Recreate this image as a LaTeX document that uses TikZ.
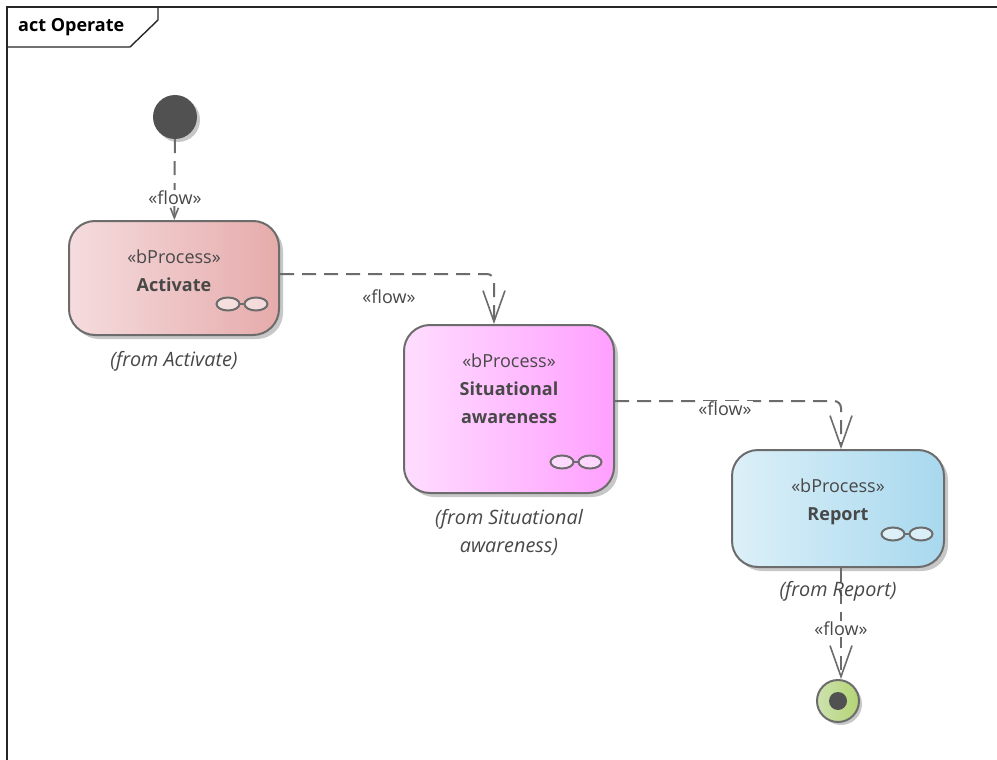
\documentclass[tikz,border=0pt]{standalone}
\usepackage{fontspec}
\setmainfont{Open Sans}
\usepackage{xcolor}
\usetikzlibrary{arrows.meta, positioning, shadows}
\definecolor{linegrey}{HTML}{6C6C6C}
\definecolor{textgrey}{HTML}{484848}
\definecolor{activateleft}{HTML}{F5DCDE}
\definecolor{activateright}{HTML}{E6ABAB}
\definecolor{situationalleft}{HTML}{FFDDFF}
\definecolor{situationalright}{HTML}{FFA0FF}
\definecolor{reportleft}{HTML}{DCF0F8}
\definecolor{reportright}{HTML}{A8D8EE}
\definecolor{finalleft}{HTML}{CDE2AF}
\definecolor{finalright}{HTML}{B4D473}
\tikzstyle{process} = [rectangle, rounded corners=26pt, minimum width=210pt, draw=linegrey, line width=2pt, drop shadow={shadow xshift=4pt, shadow yshift=-4pt, fill=black, opacity=0.22}]
\tikzstyle{proctext} = [align=center, text=textgrey, font=\fontsize{18}{28}\selectfont, inner sep=0pt]
\tikzstyle{fromtext} = [align=center, text=textgrey, font=\fontsize{19.8}{28}\selectfont\itshape, inner sep=0pt]
\tikzstyle{flowlabel} = [fill=white, text=textgrey, font=\fontsize{18}{20}\selectfont, inner sep=1pt]
\tikzstyle{flow} = [draw=linegrey, line width=2pt, dash pattern=on 14pt off 8pt, rounded corners=7pt, -{Straight Barb[length=31pt, width=22pt, line width=1.6pt]}]
\tikzstyle{flowsmall} = [draw=linegrey, line width=2pt, dash pattern=on 14pt off 8pt, -{Straight Barb[length=10pt, width=8pt, line width=1.6pt]}]
\tikzset{glasses/.pic={
  \draw [linegrey, line width=2pt] (-3,0) -- (3,0);
  \draw [linegrey, line width=2pt, fill=white, fill opacity=0.55] (-14,0) ellipse (11.5 and 6.5);
  \draw [linegrey, line width=2pt, fill=white, fill opacity=0.55] (14,0) ellipse (11.5 and 6.5);
}}

\begin{document}
\begin{tikzpicture}[x=1pt, y=-1pt]
\useasboundingbox (0,0) rectangle (997,760);
\fill [white] (0,0) rectangle (997,760);

% Frame
\draw [black!85, line width=1.4pt] (7,760) -- (7,7) -- (997,7);
\draw [black!85, line width=1.4pt] (7,47) -- (130,47) -- (158,20) -- (158,7);
\node (frametitle) [anchor=west, inner sep=0pt, font=\fontsize{18}{20}\selectfont\bfseries] at (18,27.5) {act Operate};

% Nodes
\node (start) [circle, minimum size=44pt, inner sep=0pt, fill=textgrey!95!white, drop shadow={shadow xshift=3pt, shadow yshift=-3pt, fill=black, opacity=0.22}] at (175,117) {};
\node (activate) [process, minimum height=114pt, left color=activateleft, right color=activateright] at (174,278) {};
\node (situational) [process, minimum height=168pt, left color=situationalleft, right color=situationalright] at (509,409) {};
\node (report) [process, minimum width=212pt, minimum height=117pt, left color=reportleft, right color=reportright] at (838,508.5) {};
\node (final) [circle, minimum size=42pt, inner sep=0pt, left color=finalleft, right color=finalright, draw=linegrey, line width=2pt, drop shadow={shadow xshift=3pt, shadow yshift=-3pt, fill=black, opacity=0.22}] at (838,701) {};
\node (finaldot) [circle, minimum size=18pt, inner sep=0pt, fill=textgrey!95!white] at (final.center) {};

% Texts
\node (activatetext) [proctext, below=30pt of activate.north] {«bProcess»\\\textbf{Activate}};
\node (situationaltext) [proctext, below=30pt of situational.north] {«bProcess»\\\textbf{Situational}\\\textbf{awareness}};
\node (reporttext) [proctext, below=30pt of report.north] {«bProcess»\\\textbf{Report}};
\node (activatefrom) [fromtext, below=15pt of activate.south] {(from Activate)};
\node (situationalfrom) [fromtext, below=15pt of situational.south] {(from Situational\\awareness)};

% Glasses
\pic at (242,304) {glasses};
\pic at (576,462) {glasses};
\pic at (907,534) {glasses};

% Paths
\draw [flowsmall] (start) -- (activate);
\draw [flow] ([yshift=4pt]activate.east) -| ([xshift=-15pt]situational.north);
\draw [flow] ([yshift=8pt]situational.east) -| ([xshift=3pt]report.north);
\draw [flow] ([xshift=3pt]report.south) -- ([xshift=3pt]final.north);

% Labels
\node (flowstart) [flowlabel] at (175,198) {«flow»};
\node (flowactivate) [flowlabel] at (389,297) {«flow»};
\node (flowsituational) [flowlabel] at (725,409) {«flow»};
\node (flowreport) [flowlabel] at (841,629) {«flow»};
\node (reportfrom) [fromtext, below=13pt of report.south] {(from Report)};

\end{tikzpicture}
\end{document}
